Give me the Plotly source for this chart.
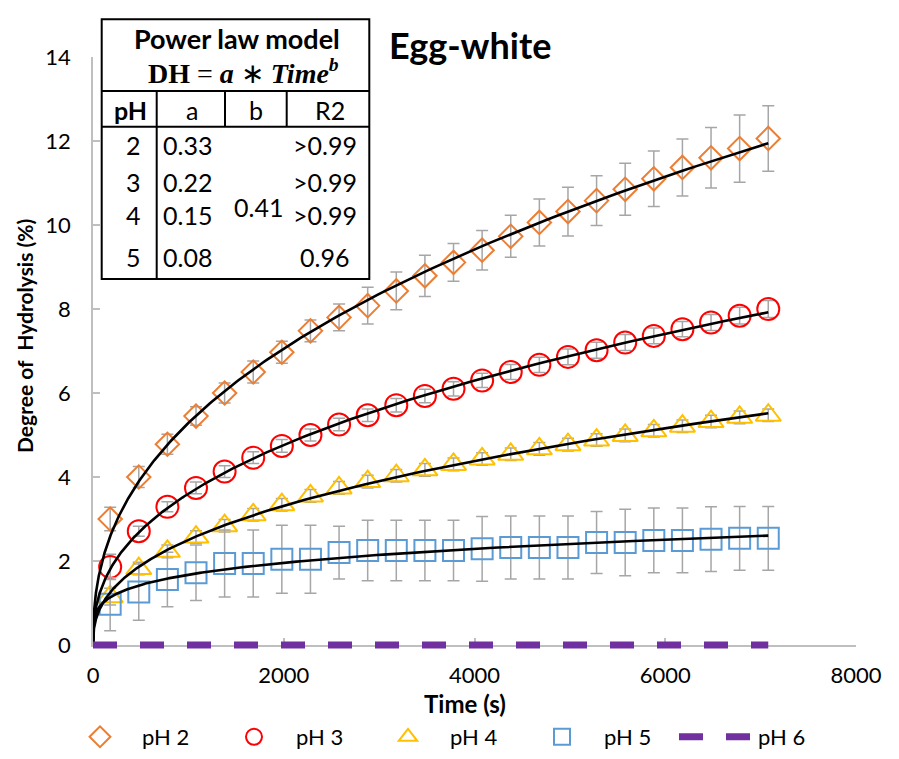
import numpy as np
import plotly.graph_objects as go

# ---------------- data ----------------
time_s = [180, 480, 780, 1080, 1380, 1680, 1980, 2280, 2580, 2880, 3180, 3480,
          3780, 4080, 4380, 4680, 4980, 5280, 5580, 5880, 6180, 6480, 6780, 7080]

ph2 = [3.00, 4.00, 4.78, 5.45, 6.00, 6.50, 6.97, 7.48, 7.80, 8.08, 8.43, 8.79,
       9.11, 9.40, 9.73, 10.06, 10.32, 10.58, 10.85, 11.10, 11.37, 11.60, 11.82, 12.06]
ph2_err = [0.28, 0.25, 0.24, 0.22, 0.24, 0.26, 0.26, 0.26, 0.32, 0.44, 0.45, 0.49,
           0.45, 0.47, 0.50, 0.56, 0.58, 0.59, 0.62, 0.66, 0.68, 0.72, 0.80, 0.78]

ph3 = [1.86, 2.71, 3.29, 3.74, 4.13, 4.46, 4.74, 5.00, 5.25, 5.47, 5.71, 5.93,
       6.10, 6.30, 6.50, 6.67, 6.86, 7.02, 7.20, 7.36, 7.52, 7.68, 7.84, 8.00]
ph3_err = [0.30, 0.12, 0.12, 0.14, 0.14, 0.14, 0.15, 0.14, 0.15, 0.15, 0.16, 0.16,
           0.17, 0.17, 0.18, 0.18, 0.19, 0.19, 0.19, 0.19, 0.18, 0.19, 0.20, 0.20]

ph4 = [1.15, 1.82, 2.23, 2.57, 2.84, 3.10, 3.34, 3.55, 3.74, 3.89, 4.03, 4.17,
       4.30, 4.43, 4.54, 4.67, 4.77, 4.88, 4.99, 5.10, 5.21, 5.32, 5.42, 5.47]
ph4_err = [0.20, 0.15, 0.15, 0.15, 0.15, 0.15, 0.15, 0.15, 0.15, 0.15, 0.15, 0.15,
           0.15, 0.15, 0.15, 0.15, 0.15, 0.15, 0.15, 0.15, 0.15, 0.15, 0.15, 0.15]

ph5 = [0.97, 1.26, 1.56, 1.72, 1.94, 1.94, 2.04, 2.04, 2.20, 2.25, 2.25, 2.25,
       2.25, 2.29, 2.32, 2.32, 2.32, 2.44, 2.44, 2.49, 2.49, 2.52, 2.54, 2.54]
ph5_err = [0.63, 0.67, 0.65, 0.66, 0.80, 0.80, 0.81, 0.81, 0.63, 0.72, 0.72, 0.72,
           0.72, 0.77, 0.75, 0.75, 0.75, 0.74, 0.79, 0.77, 0.77, 0.77, 0.76, 0.76]

time_ph6 = [0] + time_s
ph6 = [0.0] * len(time_ph6)

series_names = ["pH 2", "pH 3", "pH 4", "pH 5", "pH 6"]

table_ph = ["2", "3", "4", "5"]
table_a = ["0.33", "0.22", "0.15", "0.08"]
table_b = "0.41"
table_r2 = [">0.99", ">0.99", ">0.99", "0.96"]

# ---------------- layout geometry ----------------
FONT = "Lato"
W, H = 891, 751          # page body has an 8 px margin
PAD = 10                 # extra room below y=0 so the thick pH 6 dashes are not clipped
ML, MT, PW, PH = 85, 49, 763, 588
PHT = PH + PAD
MR, MB = W - ML - PW, H - MT - PHT
X0, Y0 = 93, 645         # plot origin in page pixels
YMAX = 14
UNIT = PH / YMAX


def px(x):
    return (x - X0) / PW


def py(y):
    return (Y0 + PAD - y) / PHT


fig = go.Figure()

# pH 6 dashed line sits on its own (hidden) axes that reach a little below zero
fig.add_trace(go.Scatter(
    x=time_ph6, y=ph6, mode="lines", name=series_names[4], xaxis="x2", yaxis="y2",
    line=dict(color="#7030A0", width=7, dash="24px,23px"), legendrank=1005,
))

styles = [
    (ph2, ph2_err, "#ED7D31", "diamond-open", 18),
    (ph3, ph3_err, "#FF0000", "circle-open", 22),
    (ph4, ph4_err, "#FFC000", "triangle-up-open", 22),
    (ph5, ph5_err, "#5B9BD5", "square-open", 21),
]

for k, ((vals, err, col, sym, size), name) in enumerate(zip(styles, series_names)):
    fig.add_trace(go.Scatter(
        x=time_s, y=vals, mode="markers", name=name, legendrank=1000 + k,
        marker=dict(symbol=sym, size=size, color=col, line=dict(width=2, color=col)),
        error_y=dict(type="data", array=err, visible=True, color="#A6A6A6",
                     thickness=1.5, width=6),
    ))

# power-law trendlines DH = a*t^b, least-squares fitted to each series
t_arr = np.array(time_s, dtype=float)
t_fit = np.concatenate([[0.0], np.geomspace(1, time_s[-1], 400)])
for vals, *_ in styles:
    v = np.array(vals)
    best = None
    for b in np.linspace(0.1, 0.9, 1601):
        f = t_arr ** b
        a = (f @ v) / (f @ f)
        sse = np.sum((v - a * f) ** 2)
        if best is None or sse < best[0]:
            best = (sse, a, b)
    _, a, b = best
    y_fit = a * np.power(t_fit, b)
    fig.add_trace(go.Scatter(x=t_fit, y=y_fit, mode="lines", showlegend=False,
                             hoverinfo="skip", line=dict(color="black", width=2.6)))

axis_common = dict(
    showline=True, linecolor="#BFBFBF", linewidth=1.5, showgrid=False, zeroline=False,
    ticks="inside", ticklen=7, tickcolor="#BFBFBF", tickwidth=1.5, automargin=False,
    layer="below traces",
    tickfont=dict(family=FONT, size=22, color="black"),
)
fig.update_layout(
    xaxis=dict(range=[0, 8000], dtick=2000, tick0=0, ticklabelstandoff=10,
               domain=[0, 1], anchor="y", **axis_common),
    yaxis=dict(range=[0, YMAX], dtick=2, tick0=0, ticklabelstandoff=16,
               domain=[PAD / PHT, 1], anchor="x", **axis_common),
    xaxis2=dict(range=[0, 8000], domain=[0, 1], anchor="y2", visible=False),
    yaxis2=dict(range=[-PAD / UNIT, YMAX], domain=[0, 1], anchor="x2", visible=False),
)


def note(x, y, text, size=25, family=FONT, xanchor="center", **kw):
    return dict(x=px(x), y=py(y), xref="paper", yref="paper", text=text, showarrow=False,
                font=dict(family=family, size=size, color="black"),
                xanchor=xanchor, yanchor="middle", **kw)


ann = [
    note(469.5, 45, "<b>Egg-white</b>", size=36),
    note(465, 703, "<b>Time (s)</b>", size=24),
    note(24, 336, "<b>Degree of \u00a0Hydrolysis (%)</b>", size=21, textangle=-90),
    note(236.7, 38.5, "<b>Power law model</b>", size=27),
    note(243, 72, "<b>DH</b> = <b><i>a</i></b> ∗ <b><i>Time</i></b><sup><b><i>b</i></b></sup>",
         size=28, family="Liberation Serif"),
]
for x, t in [(130, "<b>pH</b>"), (191.7, "a"), (256, "b"), (330, "R2")]:
    ann.append(note(x, 110, t))
row_y = [145, 181.7, 215, 256.7]
for i, yy in enumerate(row_y):
    ann.append(note(133, yy, table_ph[i]))
    ann.append(note(161, yy, table_a[i], xanchor="left"))
    ann.append(note(359 if i < 3 else 351, yy, table_r2[i], xanchor="right"))
ann.append(note(258, 206.7, table_b))

shapes = []
ln = dict(color="black", width=2)
shapes.append(dict(type="rect", xref="paper", yref="paper", x0=px(101.7), x1=px(369.3),
                   y0=py(279), y1=py(19.3), line=ln, fillcolor="white", layer="above"))
for yy in [91, 126.7]:
    shapes.append(dict(type="line", xref="paper", yref="paper", x0=px(101.7), x1=px(369.3),
                       y0=py(yy), y1=py(yy), line=ln, layer="above"))
shapes.append(dict(type="line", xref="paper", yref="paper", x0=px(156.7), x1=px(156.7),
                   y0=py(91), y1=py(279), line=ln, layer="above"))
for xx in [225, 286.7]:
    shapes.append(dict(type="line", xref="paper", yref="paper", x0=px(xx), x1=px(xx),
                       y0=py(91), y1=py(126.7), line=ln, layer="above"))

fig.update_layout(
    width=W, height=H, autosize=False,
    margin=dict(l=ML, r=MR, t=MT, b=MB, autoexpand=False),
    paper_bgcolor="white", plot_bgcolor="rgba(0,0,0,0)",
    showlegend=True,
    legend=dict(orientation="h", x=px(58), y=py(737), xanchor="left", yanchor="middle",
                font=dict(family=FONT, size=22, color="black"),
                itemwidth=74, entrywidth=65, entrywidthmode="pixels",
                traceorder="normal", bgcolor="rgba(0,0,0,0)"),
    annotations=ann, shapes=shapes,
)

fig.write_html("out.html")
